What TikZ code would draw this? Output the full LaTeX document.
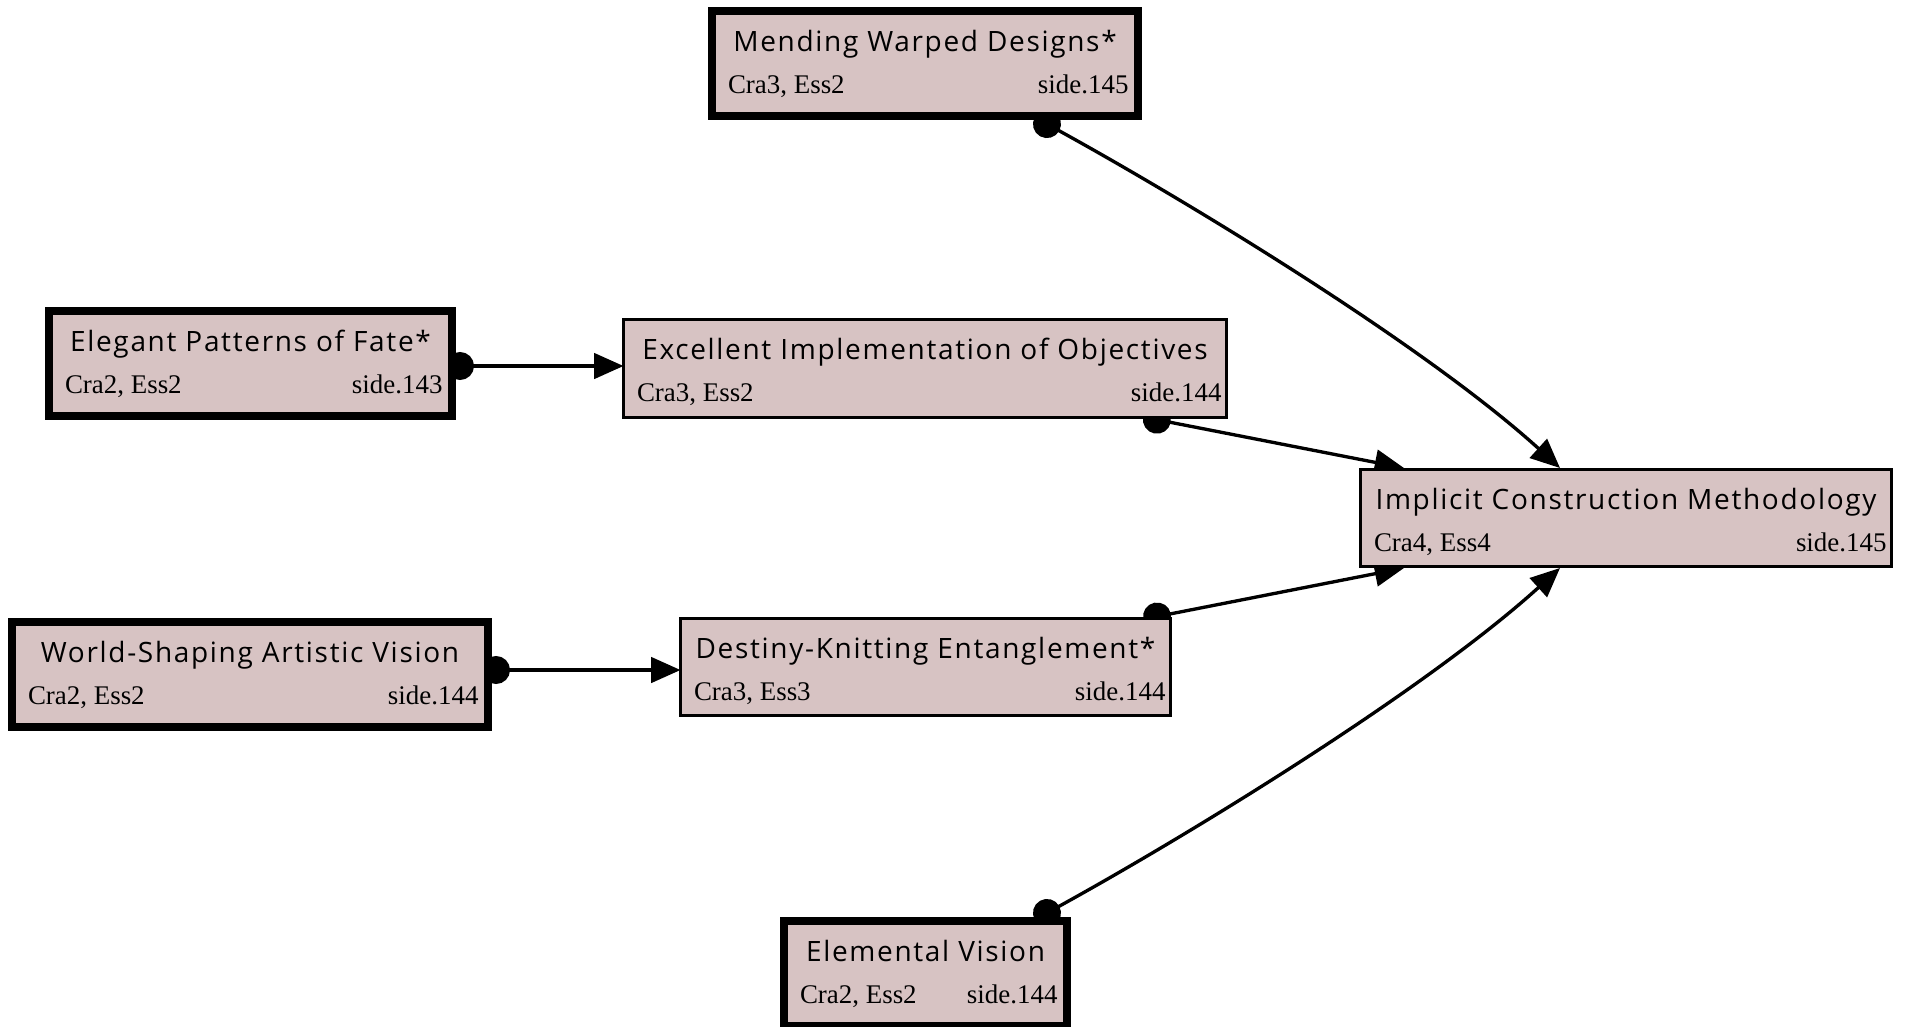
\documentclass[tikz,border=0pt]{standalone}
\usepackage{fontspec}
\setmainfont{Liberation Serif}
\newfontfamily\ttlfont[LetterSpace=6]{Open Sans}
\usetikzlibrary{arrows.meta,calc,backgrounds}
\definecolor{boxfill}{RGB}{215,195,195}
% title centred at the top, two small labels on the bottom line
\newcommand{\cardlabels}[6]{%
  \node[ttl] (#1-t) at ($(#1.north)+(0,40)$) {#4};
  \node[sub, anchor=base west] (#1-l) at ($(#1.north west)+(#2,82)$) {#5};
  \node[sub, anchor=base east] (#1-r) at ($(#1.north east)+(-#3,82)$) {#6};}
\begin{document}
\begin{tikzpicture}[x=0.75pt,y=-0.75pt,
  card/.style 2 args={draw=black, fill=boxfill, rectangle, inner sep=0pt, outer sep=0pt,
    minimum width=#1*0.75pt, minimum height=#2*0.75pt},
  heavy/.style={line width=6pt},
  light/.style={line width=2.25pt},
  ttl/.style={inner sep=0pt, outer sep=0pt, anchor=base, font=\ttlfont\fontsize{21pt}{25pt}\selectfont},
  sub/.style={inner sep=0pt, outer sep=0pt, font=\fontsize{20.2pt}{24pt}\selectfont},
  link/.style={line width=2.5pt, {Circle[length=21pt]}-{Triangle[length=22pt,width=19pt]}}
]
\useasboundingbox (0,0) rectangle (1906,1026);

% boxes
\node[card={426}{105}, heavy] (ment) at (925,63.5) {};
\node[card={403}{105}, heavy] (ele)  at (250.5,363.5) {};
\node[card={476}{105}, heavy] (wld)  at (250,674.5) {};
\node[card={283}{105}, heavy] (elm)  at (925.5,973.5) {};
\node[card={603}{98},  light] (exc)  at (925,368.5) {};
\node[card={531}{97},  light] (impl) at (1626,518) {};
\node[card={490}{97},  light] (des)  at (925.5,667) {};

\cardlabels{ment}{16}{9.5}{Mending Warped Designs*}{Cra3, Ess2}{side.145}
\cardlabels{ele}{16}{9.5}{Elegant Patterns of Fate*}{Cra2, Ess2}{side.143}
\cardlabels{wld}{16}{9.5}{World-Shaping Artistic Vision}{Cra2, Ess2}{side.144}
\cardlabels{elm}{16}{9.5}{Elemental Vision}{Cra2, Ess2}{side.144}
\cardlabels{exc}{13.5}{5}{Excellent Implementation of Objectives}{Cra3, Ess2}{side.144}
\cardlabels{impl}{13.5}{5}{Implicit Construction Methodology}{Cra4, Ess4}{side.145}
\cardlabels{des}{13.5}{5}{Destiny-Knitting Entanglement*}{Cra3, Ess3}{side.144}

% connector ends
\coordinate (e1a) at ($(ment.south)+(109.7,1.3)$);
\coordinate (e1b) at ($(impl.north)+(-66,-1.5)$);
\coordinate (e2a) at ($(ele.east)+(-6,2.5)$);
\coordinate (e3a) at ($(exc.south)+(218.2,-0.5)$);
\coordinate (e3b) at ($(impl.north)+(-222,-1.5)$);
\coordinate (e4a) at ($(des.north)+(217.8,0.7)$);
\coordinate (e4b) at ($(impl.south)+(-222,1.5)$);
\coordinate (e5a) at ($(wld.east)+(-6,-4.5)$);
\coordinate (e6a) at ($(elm.north)+(109.2,-1.3)$);
\coordinate (e6b) at ($(impl.south)+(-66,1.5)$);

% connectors, drawn underneath the boxes
\begin{pgfonlayer}{background}
\fill[white] (0,0) rectangle (1906,1026);
\draw[link] (e1a) .. controls +(158,87) and +(-134,-121.5) .. (e1b);
\draw[link] (e6a) .. controls +(158,-87) and +(-134,121.5) .. (e6b);
\draw[link] (e3a) -- (e3b);
\draw[link] (e4a) -- (e4b);
\draw[link] (e2a) -- (e2a -| exc.west);
\draw[link] (e5a) -- (e5a -| des.west);
\end{pgfonlayer}
\end{tikzpicture}
\end{document}
